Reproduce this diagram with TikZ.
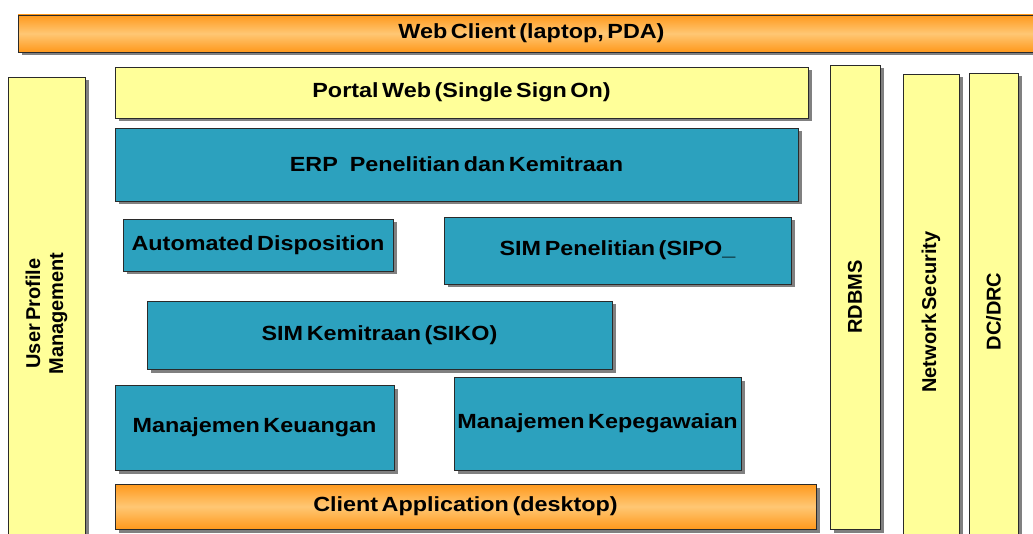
\documentclass[tikz,border=0pt]{standalone}
\usepackage{fontspec}
\setmainfont{Liberation Sans}[FakeStretch=1.14, WordSpace=0.55]
\newfontfamily\vertfont{Liberation Sans}[WordSpace=0.6]
\usetikzlibrary{shadows}
\definecolor{orA}{HTML}{FF991C}
\definecolor{orB}{HTML}{FFC774}
\definecolor{ylw}{HTML}{FFFF99}
\definecolor{tealc}{HTML}{2CA1BE}
\definecolor{edgec}{HTML}{2A2A2A}
\tikzset{
  base/.style={draw=edgec, line width=0.9pt, inner sep=0pt, align=center,
    font=\fontsize{20.5}{22}\selectfont\bfseries, text=black,
    drop shadow={shadow xshift=3.5pt, shadow yshift=-3.5pt, fill=black!50, opacity=1}},
  orangebox/.style={base, top color=orA, bottom color=orA, middle color=orB},
  yellowbox/.style={base, fill=ylw},
  tealbox/.style={base, fill=tealc},
  vertbox/.style={yellowbox, font=\vertfont\fontsize{20}{23}\selectfont\bfseries},
}
\newcommand\blk[7]{\node[#2, minimum width={#5-#3}, minimum height={#6-#4}] (#1) at ({(#3+#5)/2},{-(#4+#6)/2}) {#7};}
\newcommand\vblk[7]{\node[#2, rotate=90, minimum width={#6-#4}, minimum height={#5-#3}] (#1) at ({(#3+#5)/2},{-(#4+#6)/2}) {#7};}
\begin{document}
\begin{tikzpicture}[x=1pt,y=1pt]
\useasboundingbox (0,0) rectangle (1033,-534);
\blk{web}{orangebox}{18}{15}{1045}{52}{Web Client (laptop, PDA)}
\vblk{upm}{vertbox}{8}{77}{85}{550}{User Profile\\Management}
\blk{portal}{yellowbox}{115}{67}{808}{118}{Portal Web (Single Sign On)}
\blk{erp}{tealbox}{115}{128}{798}{201}{ERP\hspace{12pt}Penelitian dan Kemitraan}
\blk{auto}{tealbox}{123}{219}{393}{271}{Automated Disposition}
\blk{sipo}{tealbox}{444}{217}{791}{284}{SIM Penelitian (SIPO\_}
\blk{siko}{tealbox}{147}{301}{612}{369}{SIM Kemitraan (SIKO)}
\blk{keu}{tealbox}{115}{385}{394}{470}{Manajemen Keuangan}
\blk{peg}{tealbox}{454}{377}{741}{470}{Manajemen Kepegawaian}
\blk{client}{orangebox}{115}{484}{816}{529}{Client Application (desktop)}
\vblk{rdbms}{vertbox}{830}{65}{880}{529}{RDBMS}
\vblk{netsec}{vertbox}{903}{74}{959}{550}{Network Security}
\vblk{dcdrc}{vertbox}{969}{73}{1018}{550}{DC/DRC}
\end{tikzpicture}
\end{document}
